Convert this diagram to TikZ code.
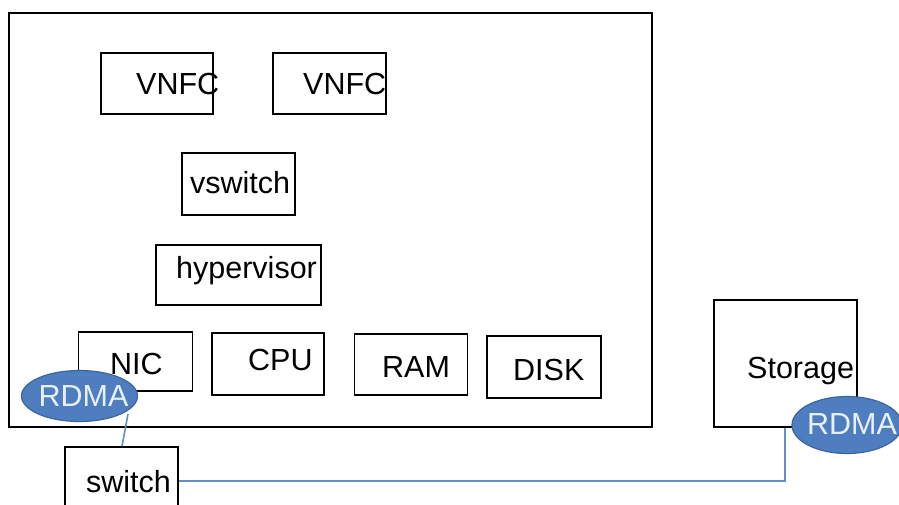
\documentclass[tikz,border=0pt]{standalone}
\usepackage{fontspec}
\setmainfont{Liberation Sans}
\usetikzlibrary{shapes.geometric}
\definecolor{rdmafill}{HTML}{4F7EC0}
\definecolor{rdmaedge}{HTML}{3C649E}
\definecolor{rdmatext}{HTML}{E8F0FA}
\definecolor{wire}{HTML}{5F8FCC}
\tikzset{
  box/.style={draw=black, line width=1.5pt, fill=white, inner sep=0pt, minimum width=#1},
  box/.default=112pt,
  txt/.style={inner sep=0pt, anchor=west, font=\fontsize{30.5}{31}\selectfont},
  rdma/.style={ellipse, draw=rdmaedge, line width=1.2pt, fill=rdmafill, inner sep=0pt},
  rdmatxt/.style={inner sep=0pt, text=rdmatext, font=\fontsize{30.5}{31}\selectfont},
  link/.style={draw=wire, line width=1.6pt}
}
\begin{document}
\begin{tikzpicture}[x=1pt,y=-1pt]
\useasboundingbox (0,0) rectangle (899,504);
% outer host box
\node[box, line width=2pt, minimum width=643pt, minimum height=414pt] (host) at (330.5,220) {};
% inner boxes
\node[box, minimum height=61pt] (vnfc1) at (157,83.5) {};
\node[txt] (vnfc1t) at (136,83.5) {VNFC};
\node[box, minimum width=113pt, minimum height=61pt] (vnfc2) at (329.5,83.5) {};
\node[txt] (vnfc2t) at (303,83.5) {VNFC};
\node[box, minimum width=113pt, minimum height=62pt] (vsw) at (238.5,184) {};
\node[txt] (vswt) at (190,183) {vswitch};
\node[box, minimum width=165pt, minimum height=60pt] (hyp) at (238.5,275) {};
\node[txt] (hypt) at (176,271) {hypervisor};
\node[box, minimum width=114pt, minimum height=59pt] (nic) at (135.5,361.5) {};
\node[txt] (nict) at (110,364) {NIC};
\node[box, minimum width=112pt, minimum height=62pt] (cpu) at (268,364) {};
\node[txt] (cput) at (248,360) {CPU};
\node[box, minimum width=113pt, minimum height=61pt] (ram) at (411,364.5) {};
\node[txt] (ramt) at (382,366.5) {RAM};
\node[box, minimum width=114pt, minimum height=62pt] (disk) at (544,367) {};
\node[txt] (diskt) at (513,370) {DISK};
% storage
\node[box, minimum width=143pt, minimum height=127pt] (stor) at (785.5,363.5) {};
\node[txt] (stort) at (747,371) {Storage};
% switch
\node[box, minimum width=113pt, minimum height=70pt] (sw) at (121.5,482) {};
\node[txt] (swt) at (86,482) {switch};
% connectors
\coordinate (corner) at (785,481);
\draw[link] (sw.east |- 0,481) -- (corner) -- (stor.south -| corner);
\node[rdma, minimum width=116pt, minimum height=51pt] (rdma1) at (79.5,396) {};
\node[rdmatxt] (rdma1t) at (83.5,396) {RDMA};
\draw[link] (128,414) -- (sw.north -| 122,0);
\node[rdma, minimum width=110pt, minimum height=57pt] (rdma2) at (847,425) {};
\node[rdmatxt] (rdma2t) at (852,424) {RDMA};
\end{tikzpicture}
\end{document}
